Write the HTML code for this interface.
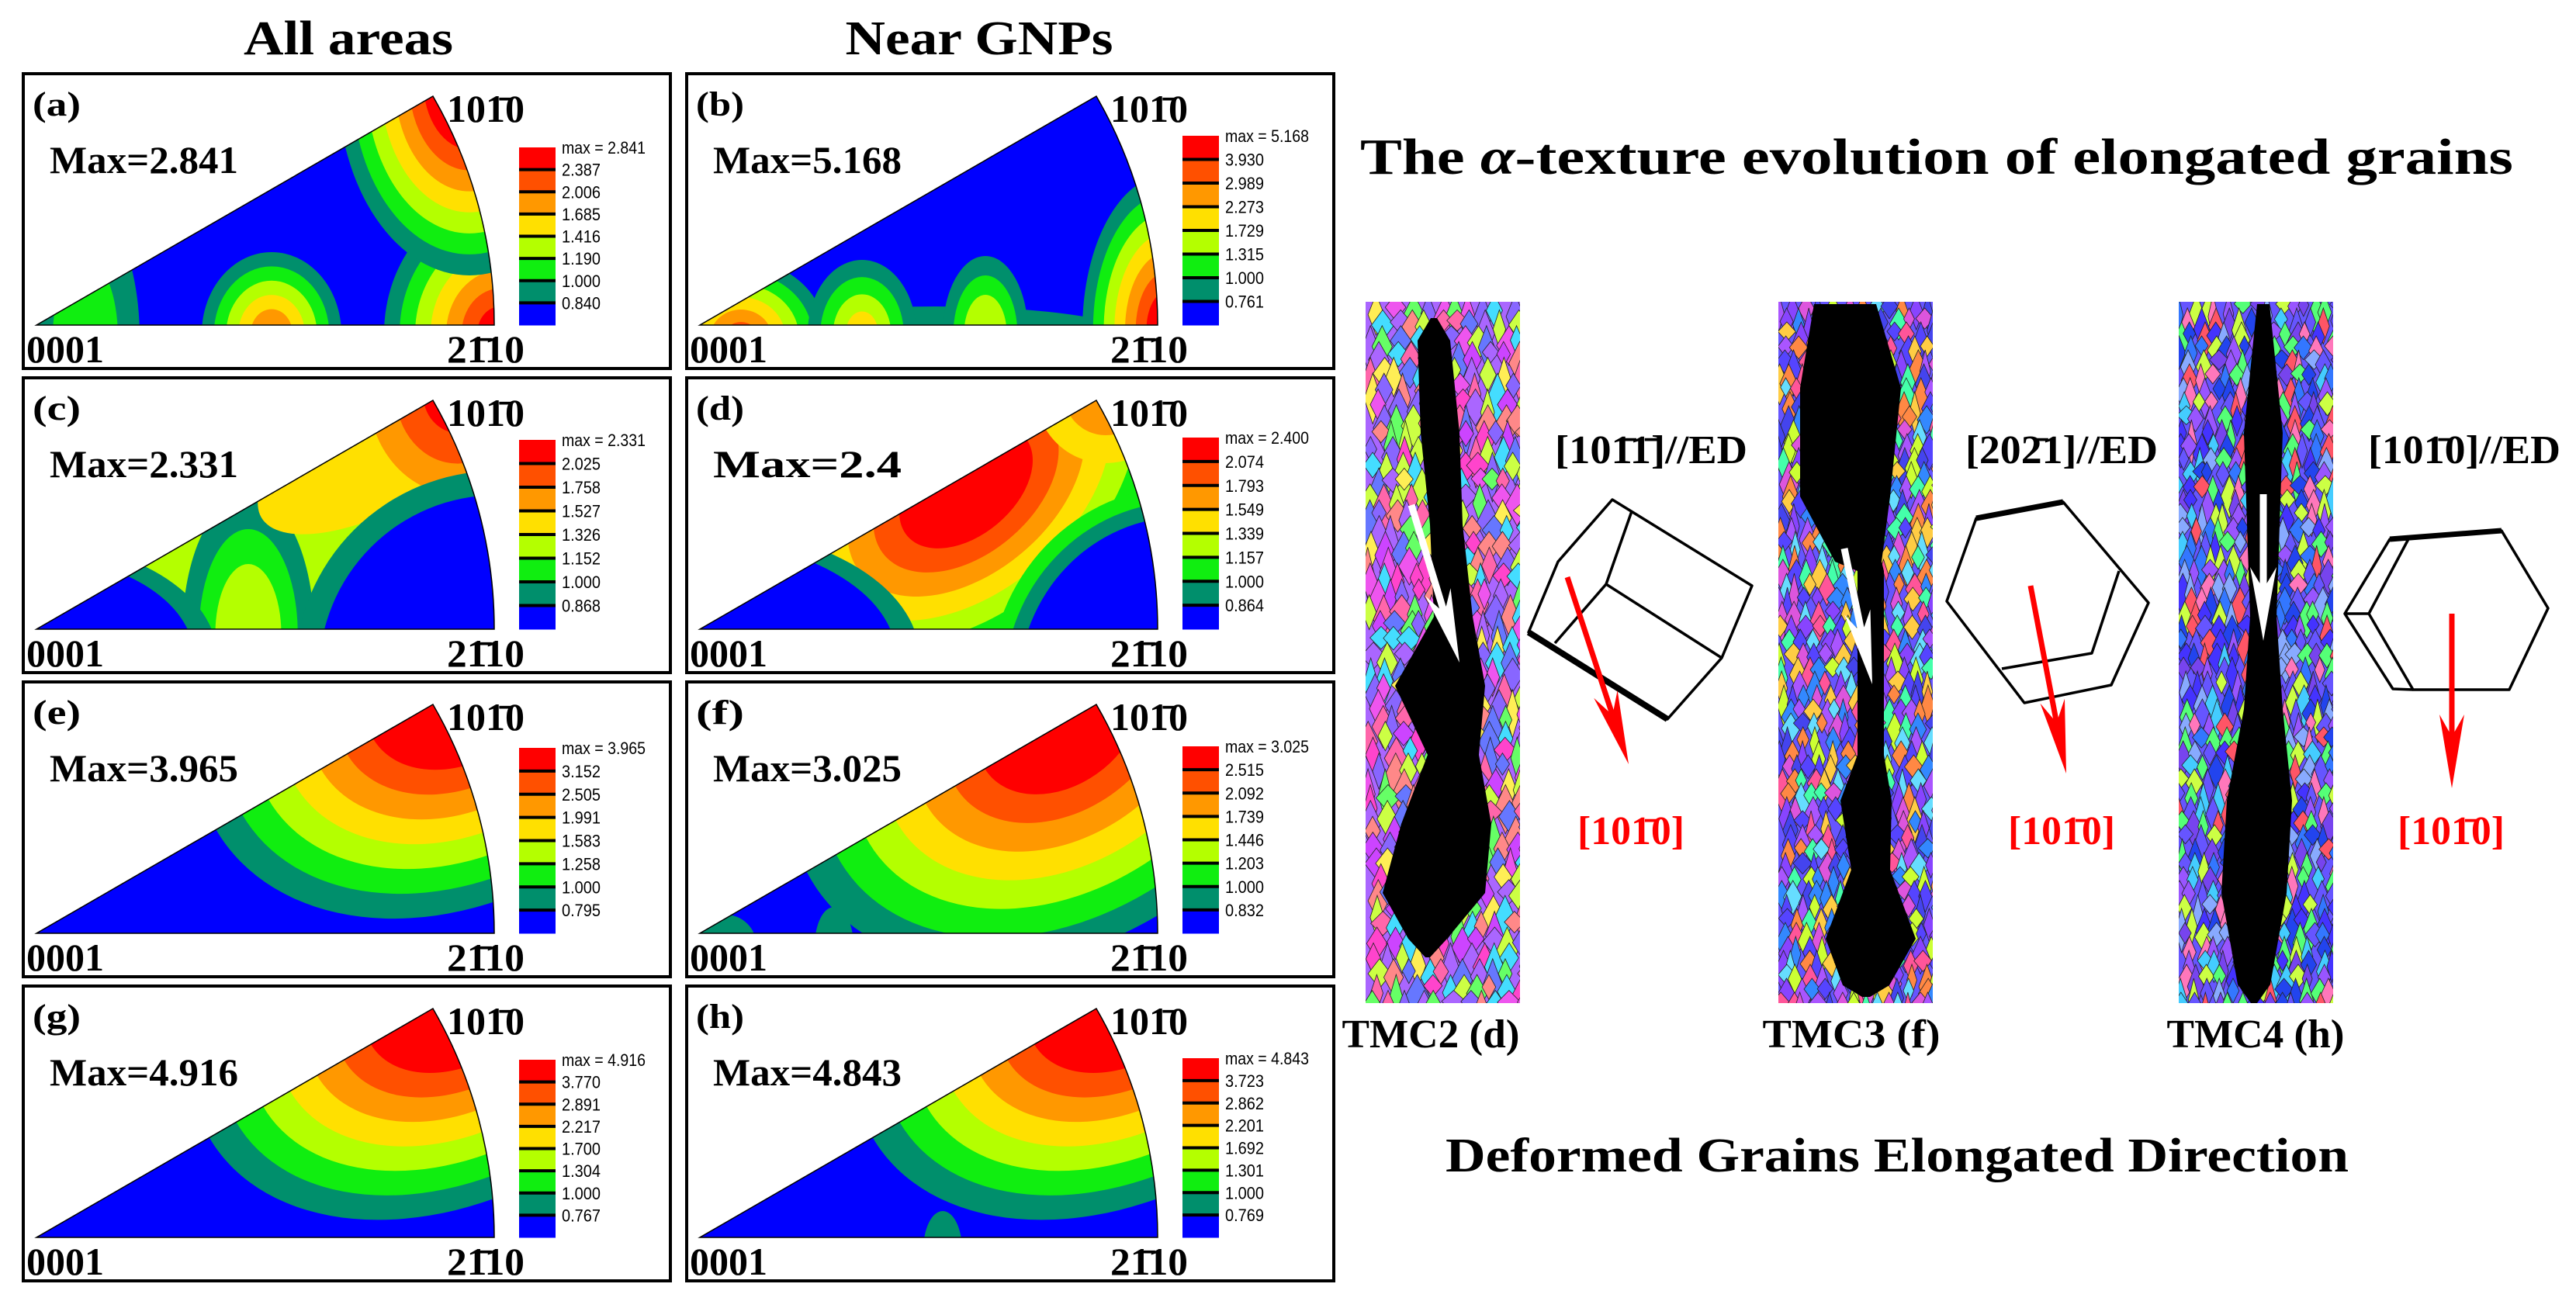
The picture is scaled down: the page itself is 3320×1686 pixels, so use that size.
<!DOCTYPE html>
<html><head><meta charset="utf-8"><style>
html,body{margin:0;padding:0;background:#fff;}
svg{display:block;}
text{font-family:"Liberation Serif",serif;font-weight:bold;}
</style></head><body>
<svg id="fig" xmlns="http://www.w3.org/2000/svg" width="3320" height="1686" viewBox="0 0 3320 1686">
<text x="449" y="70" font-size="62" text-anchor="middle" textLength="270" lengthAdjust="spacingAndGlyphs">All areas</text>
<text x="1262" y="70" font-size="62" text-anchor="middle" textLength="345" lengthAdjust="spacingAndGlyphs">Near GNPs</text>
<g id="panels"></g>
<text x="1753" y="224" font-size="66" textLength="1486" lengthAdjust="spacingAndGlyphs">The <tspan font-style="italic">α</tspan>-texture evolution of elongated grains</text>
<g id="strips"></g>
<g id="crystals" fill="none" stroke="#000" stroke-width="3.5" stroke-linejoin="round">
<g>
<polygon points="2078,644 2258,755 2219,848 2149,927 1970,815 2008,724"/>
<polyline points="2103,659 2070,753 2219,848"/>
<line x1="2070" y1="753" x2="2004" y2="829"/>
<line x1="1970" y1="815" x2="2149" y2="927" stroke-width="8"/>
</g>
<g>
<polygon points="2547,668 2659,647 2769,777 2721,883 2609,906 2509,775"/>
<polyline points="2731,736 2696,842 2580,862"/>
<line x1="2547" y1="668" x2="2659" y2="647" stroke-width="7"/>
</g>
<g>
<polygon points="3105,693 3224,684 3284,784 3234,889 3110,889 3053,791"/>
<polyline points="3105,693 3080,695 3022,791 3084,888 3110,889"/>
<line x1="3022" y1="791" x2="3053" y2="791"/>
<line x1="3080" y1="695" x2="3224" y2="684" stroke-width="7"/>
</g>
</g>
<g id="labels"></g>
<text x="2445" y="1510" font-size="62" text-anchor="middle" textLength="1164" lengthAdjust="spacingAndGlyphs">Deformed Grains Elongated Direction</text>
</svg>
<script>
const NS='http://www.w3.org/2000/svg';
// ---- IPF panel data ----
const panelIds=['a','b','c','d','e','f','g','h'];
const maxVals=['2.841','5.168','2.331','2.4','3.965','3.025','4.916','4.843'];
const cbMax=['2.841','5.168','2.331','2.400','3.965','3.025','4.916','4.843'];
const cbTicksA=['2.387','2.006','1.685','1.416','1.190','1.000','0.840'];
const cbTicksB=['3.930','2.989','2.273','1.729','1.315','1.000','0.761'];
const cbTicksC=['2.025','1.758','1.527','1.326','1.152','1.000','0.868'];
const cbTicksD=['2.074','1.793','1.549','1.339','1.157','1.000','0.864'];
const cbTicksE=['3.152','2.505','1.991','1.583','1.258','1.000','0.795'];
const cbTicksF=['2.515','2.092','1.739','1.446','1.203','1.000','0.832'];
const cbTicksG=['3.770','2.891','2.217','1.700','1.304','1.000','0.767'];
const cbTicksH=['3.723','2.862','2.201','1.692','1.301','1.000','0.769'];
const cbTicks=[cbTicksA,cbTicksB,cbTicksC,cbTicksD,cbTicksE,cbTicksF,cbTicksG,cbTicksH];
const levelColors=['#0000ff','#008f6c','#10ee10','#b4ff00','#ffe000','#ff9800','#ff5000','#ff0000'];
// contour blobs: [cx,cy,rx,ry,rot,levels(outer->inner),minScale]
const blobs=[
 [[615,335,150,175,0,[1,2,3,4,5,6,7],.2],[575,10,170,250,0,[1,2,3,4,5,6,7],.35],[320,335,90,105,0,[1,2,3,4,5],.3],[80,340,70,170,0,[1,2],.6]],
 [[320,340,260,40,0,[1],1],[620,330,110,200,0,[1,2,3,4,5,6,7],.25],[70,340,110,100,0,[1,2,3,4,5,6],.2],[226,335,70,95,0,[1,2,3,4],.3],[385,335,55,100,0,[1,2,3],.5]],
 [[380,160,380,150,-30,[1,2,3],.75],[290,330,85,180,0,[1,2,3],.5],[480,80,200,80,-30,[4],1],[560,20,150,170,0,[4,5,6,7],.3],[610,380,260,260,0,[1,0],.88],[0,360,250,150,0,[1,0],.88]],
 [[310,340,120,200,0,[1,2,3,4],.45],[360,140,330,210,-40,[1,2,3,4,5,6,7],.3],[540,20,90,90,0,[4,5],.6],[640,400,250,260,0,[2,1,0],.85],[0,360,300,170,0,[1,0],.9]],
 [[560,10,360,270,-30,[1,2,3,4,5,6,7],.35]],
 [[350,340,45,200,0,[1],1],[480,50,380,280,-35,[1,2,3,4,5,6,7],.3],[50,340,40,40,0,[1],1],[190,340,25,50,0,[1],1]],
 [[560,10,370,260,-30,[1,2,3,4,5,6,7],.35]],
 [[560,10,370,260,-30,[1,2,3,4,5,6,7],.35],[330,340,25,50,0,[1],1]]
];
const cbTop=[95,80,80,77,85,83,95,93];
const colX=[30,885], rowY=[95,487,879,1271];
const O=[17,324], R=590;
const panelsG=document.getElementById('panels');
function el(tag,attrs,parent){const e=document.createElementNS(NS,tag);for(const k in attrs)e.setAttribute(k,attrs[k]);if(parent)parent.appendChild(e);return e;}
const defs=el('defs',{},document.getElementById('fig'));
const sectorD=`M${O[0]},${O[1]} L${O[0]+R},${O[1]} A${R},${R} 0 0 0 ${O[0]+R*Math.cos(Math.PI/6)},${O[1]-R*Math.sin(Math.PI/6)} Z`;
const cp=el('clipPath',{id:'sector'},defs);el('path',{d:sectorD},cp);
panelIds.forEach((id,i)=>{
  const g=el('g',{transform:`translate(${colX[i%2]},${rowY[Math.floor(i/2)]})`},panelsG);
  
  
  const box=el('rect',{x:0,y:0,width:834,height:380,fill:'#fff',stroke:'#000','stroke-width':4},g);
  
  
  const cg=el('g',{'clip-path':'url(#sector)'},g);
  
  
  el('rect',{x:0,y:0,width:700,height:380,fill:levelColors[0]},cg);
  blobs[i].forEach(b=>{
    const [cx,cy,rx,ry,rot,lv,s0]=b;
    lv.forEach((L,k)=>{
      const s=lv.length>1?1-(1-s0)*k/(lv.length-1):1;
      const e=el('ellipse',{cx:cx,cy:cy,rx:rx*s,ry:ry*s,transform:`rotate(${rot} ${cx} ${cy})`,fill:levelColors[L]},cg);
      
      
    });
  });
  const edge=el('path',{d:sectorD,fill:'none',stroke:'#000','stroke-width':1.5},g);
  
  
  const top=cbTop[i], segH=(324-top)/8;
  const cb=el('g',{},g);
  
  
  for(let k=0;k<8;k++){
    el('rect',{x:639,y:top+k*segH,width:47,height:segH+0.5,fill:levelColors[7-k]},cb);
    if(k>0) el('rect',{x:639,y:top+k*segH-2,width:47,height:4,fill:'#000'},cb);
  }
  const labs=['max = '+cbMax[i]].concat(cbTicks[i]);
  labs.forEach((t,k)=>{
    const tx=el('text',{x:694,y:top+k*segH+8,'font-size':22,'font-weight':'normal',textLength:k===0?108:50,lengthAdjust:'spacingAndGlyphs'},cb);
    
    
    tx.style.fontFamily='"Liberation Sans",sans-serif';tx.style.fontWeight='normal';
    tx.textContent=t;
  });
  const t1=el('text',{x:12,y:54,'font-size':44,textLength:62,lengthAdjust:'spacingAndGlyphs'},g);
  
  
  t1.textContent='('+id+')';
  const t2=el('text',{x:34,y:128,'font-size':50,textLength:243,lengthAdjust:'spacingAndGlyphs'},g);
  
  
  t2.textContent='Max='+maxVals[i];
  const t3=el('text',{x:546,y:62,'font-size':50,textLength:100,lengthAdjust:'spacingAndGlyphs'},g);
  
  
  t3.textContent='101\u03040';
  const t4=el('text',{x:4,y:372,'font-size':50,textLength:100,lengthAdjust:'spacingAndGlyphs'},g);
  
  
  t4.textContent='0001';
  const t5=el('text',{x:546,y:372,'font-size':50,textLength:100,lengthAdjust:'spacingAndGlyphs'},g);
  
  
  t5.textContent='21\u030410';
});
// ---- EBSD strips ----
const stripX=[1760,2292,2808], stripW=199, stripY0=389, stripY1=1293;
const stripPalettes=[
 ['#ff44cc','#cc44ff','#8866ff','#ff66aa','#66ff66','#ccff44','#44ddff','#aa66ff','#ff8888','#6677ff','#ee55ee','#ffee55'],
 ['#5544ff','#8844ff','#3388ff','#ff5599','#44ffaa','#ccff33','#ff8844','#aa55ff','#66ddff','#4444ee','#dd55dd','#ffcc44'],
 ['#4433ff','#6655ff','#3377ff','#9955ff','#55ff77','#ccff44','#ff77bb','#44ccff','#2244ee','#7744ee','#ff5566','#88aaff']
];
const blackProfiles=[
 [[410,1848,4],[439,1848,21],[558,1856,25],[676,1864,21],[795,1873,25],[884,1856,58],[973,1873,33],[1062,1864,58],[1151,1848,66],[1210,1840,25],[1234,1840,3]],
 [[392,2378,40],[500,2385,65],[640,2378,58],[724,2395,30],[736,2411,17],[973,2411,17],[1032,2405,33],[1121,2411,25],[1210,2411,58],[1270,2405,30],[1285,2405,5]],
 [[392,2917,8],[558,2917,25],[795,2917,17],[914,2917,25],[1032,2912,42],[1151,2905,42],[1269,2905,21],[1293,2905,4]]
];
const stripsG=document.getElementById('strips');
let seed=12345;function rnd(){seed=(seed*1103515245+12345)%2147483648;return seed/2147483648;}
stripX.forEach((sx,si)=>{
  const g=el('g',{},stripsG);
  
  
  const cpS=el('clipPath',{id:'strip'+si},defs);el('rect',{x:sx,y:stripY0,width:stripW,height:stripY1-stripY0},cpS);
  const inner=el('g',{'clip-path':`url(#strip${si})`},g);
  el('rect',{x:sx,y:stripY0,width:stripW,height:stripY1-stripY0,fill:si===0?'#aa66ff':'#6655ff'},inner);
  const pal=stripPalettes[si];
  const cw=si===0?20:16, ch=si===0?34:30;
  let s='';
  for(let y=stripY0-10;y<stripY1;y+=ch*0.6){
    for(let x=sx-10+(rnd()*cw);x<sx+stripW;x+=cw*(0.7+rnd()*0.6)){
      const w=cw*(0.8+rnd()*0.8),h=ch*(0.8+rnd()*1.2),c=pal[Math.floor(rnd()*pal.length)];
      s+=`<polygon points="${x},${y+h/2} ${x+w/2},${y} ${x+w},${y+h/2} ${x+w/2},${y+h}" fill="${c}" stroke="#222" stroke-width="0.8"/>`;
    }
  }
  const tg=el('g',{},inner);tg.innerHTML=s;
  const prof=blackProfiles[si];
  let d='M'+prof.map(p=>(p[1]-p[2])+','+p[0]).join(' L')+' L'+prof.slice().reverse().map(p=>(p[1]+p[2])+','+p[0]).join(' L')+' Z';
  const bk=el('path',{d:d,fill:'#000'},inner);
  
  
});
const whiteArrows=[[1819,651,1881,854],[2377,707,2413,882],[2917,637,2917,826]];
const redArrows=[[2020,744,2099,985],[2617,755,2663,997],[3160,791,3160,1016]];
function arrow(a,color,w,hl,hw,name){
  const [x1,y1,x2,y2]=a, dx=x2-x1, dy=y2-y1, L=Math.hypot(dx,dy), ux=dx/L, uy=dy/L;
  const bx=x2-ux*hl, by=y2-uy*hl;
  const g=el('g',{},document.getElementById('crystals').parentNode);
  
  
  el('line',{x1:x1,y1:y1,x2:x2-ux*hl*0.5,y2:y2-uy*hl*0.5,stroke:color,'stroke-width':w},g);
  el('polygon',{points:`${x2},${y2} ${bx-uy*hw},${by+ux*hw} ${x2-ux*hl*0.7},${y2-uy*hl*0.7} ${bx+uy*hw},${by-ux*hw}`,fill:color},g);
}
whiteArrows.forEach(a=>arrow(a,'#fff',9,95,17,'white-arrow'));
redArrows.forEach(a=>arrow(a,'#ff0000',7,95,16,'red-arrow'));
const lab=document.getElementById('labels');
const tmcNames=['TMC2 (d)','TMC3 (f)','TMC4 (h)'], tmcX=[1844,2386,2907];
const edNames=['[101\u03041\u0304]//ED','[202\u03041]//ED','[101\u03040]//ED'], edX=[2128,2657,3176];
const redX=[2102,2657,3159];
tmcNames.forEach((t,i)=>{
  const a=el('text',{x:tmcX[i],y:1350,'font-size':52,'text-anchor':'middle',textLength:229,lengthAdjust:'spacingAndGlyphs'},lab);
  
  
  a.textContent=t;
  const b=el('text',{x:edX[i],y:597,'font-size':52,'text-anchor':'middle',textLength:248,lengthAdjust:'spacingAndGlyphs'},lab);
  
  
  b.textContent=edNames[i];
  const c=el('text',{x:redX[i],y:1088,'font-size':52,'text-anchor':'middle',fill:'#ff0000',textLength:138,lengthAdjust:'spacingAndGlyphs'},lab);
  
  
  c.textContent='[101\u03040]';
});
</script>
</body></html>
